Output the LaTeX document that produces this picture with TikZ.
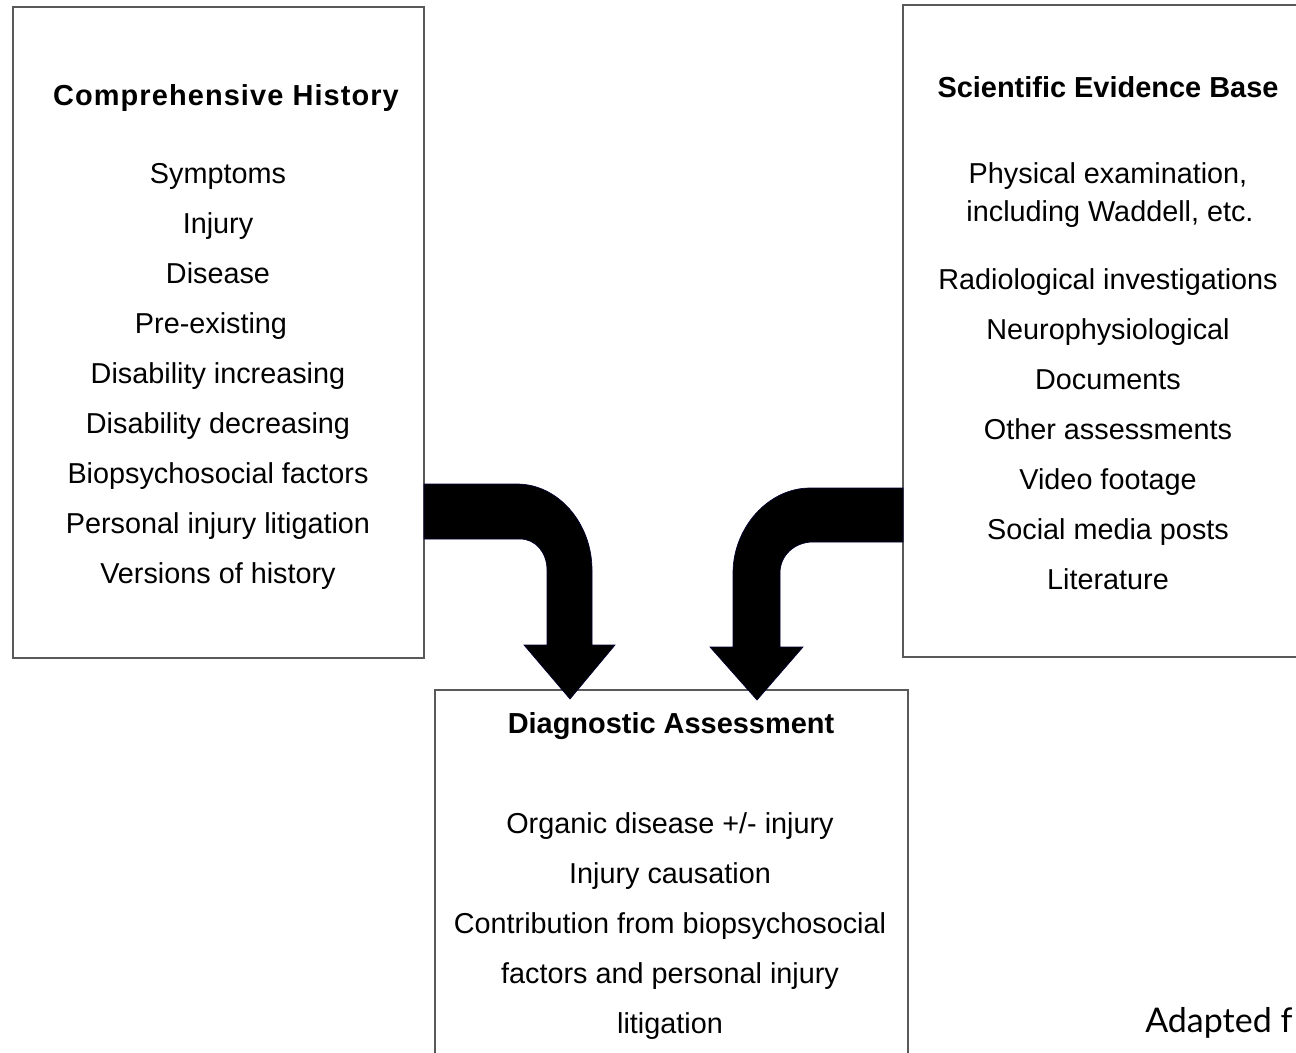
\documentclass[tikz,border=0pt]{standalone}
\usepackage{fontspec}
\setmainfont{Liberation Sans}
\newfontfamily\notefont{Lato}
\newfontfamily\spacedbold[LetterSpace=3.8]{Liberation Sans Bold}
\usetikzlibrary{fit}
\begin{document}
\begin{tikzpicture}[x=0.75pt,y=-0.75pt,
  box/.style={draw=black!65,line width=0.9pt,inner sep=0pt,fill=none},
  item/.style={anchor=base,inner sep=0pt,font=\fontsize{21.6}{25}\selectfont},
  title/.style={anchor=base,inner sep=0pt,font=\fontsize{21.7}{25}\selectfont\bfseries},
  bigarrow/.style={fill=black,draw=black!80!blue,line width=0.5pt}]
\useasboundingbox (0,0) rectangle (1296,1053);
\clip (0,0) rectangle (1296,1053);
\fill[white] (0,0) rectangle (1296,1053);

% boxes
\node[box,fit={(13,7) (424,658)}] (hist) {};
\node[box,fit={(903,5) (1320,657)}] (evid) {};
\node[box,fit={(435,690) (908,1080)}] (diag) {};

% left box text
\node[title,font=\fontsize{21.7}{25}\selectfont\spacedbold] (th) at (226,105) {Comprehensive History};
\node[item] (h1) at (218,183) {Symptoms};
\node[item] (h2) at (218,233) {Injury};
\node[item] (h3) at (218,283) {Disease};
\node[item] (h4) at (211,333) {Pre-existing};
\node[item] (h5) at (218,383) {Disability increasing};
\node[item] (h6) at (218,433) {Disability decreasing};
\node[item] (h7) at (218,483) {Biopsychosocial factors};
\node[item] (h8) at (218,533) {Personal injury litigation};
\node[item] (h9) at (218,583) {Versions of history};

% right box text
\node[title] (te) at (1108,97) {Scientific Evidence Base};
\node[item] (e1) at (1108,183) {Physical examination,};
\node[item] (e1b) at (1110,221) {including Waddell, etc.};
\node[item] (e2) at (1108,289) {Radiological investigations};
\node[item] (e3) at (1108,339) {Neurophysiological};
\node[item] (e4) at (1108,389) {Documents};
\node[item] (e5) at (1108,439) {Other assessments};
\node[item] (e6) at (1108,489) {Video footage};
\node[item] (e7) at (1108,539) {Social media posts};
\node[item] (e8) at (1108,589) {Literature};

% bottom box text
\node[title] (td) at (671,733) {Diagnostic Assessment};
\node[item] (d1) at (670,833) {Organic disease +/- injury};
\node[item] (d2) at (670,883) {Injury causation};
\node[item] (d3) at (670,933) {Contribution from biopsychosocial};
\node[item] (d4) at (670,983) {factors and personal injury};
\node[item] (d5) at (670,1033) {litigation};

% note
\node[anchor=base west,inner sep=0pt,font=\notefont\fontsize{25.5}{30}\selectfont] (note) at (1145,1032) {Adapted f};

% bent arrows
\fill[bigarrow] (424,484) -- (517,484)
  .. controls (558,484) and (592,523) .. (592,570)
  -- (592,645) -- (615,645) -- (570,699) -- (524,645) -- (547,645)
  -- (547,570) .. controls (547,553) and (536,539) .. (520,539)
  -- (424,539) -- cycle;
\fill[bigarrow] (903,488) -- (810,488)
  .. controls (768,488) and (733,528) .. (733,573)
  -- (733,647) -- (710,647) -- (757,700) -- (803,647) -- (780,647)
  -- (780,573) .. controls (780,555) and (795,542) .. (813,542)
  -- (903,542) -- cycle;
\end{tikzpicture}
\end{document}
